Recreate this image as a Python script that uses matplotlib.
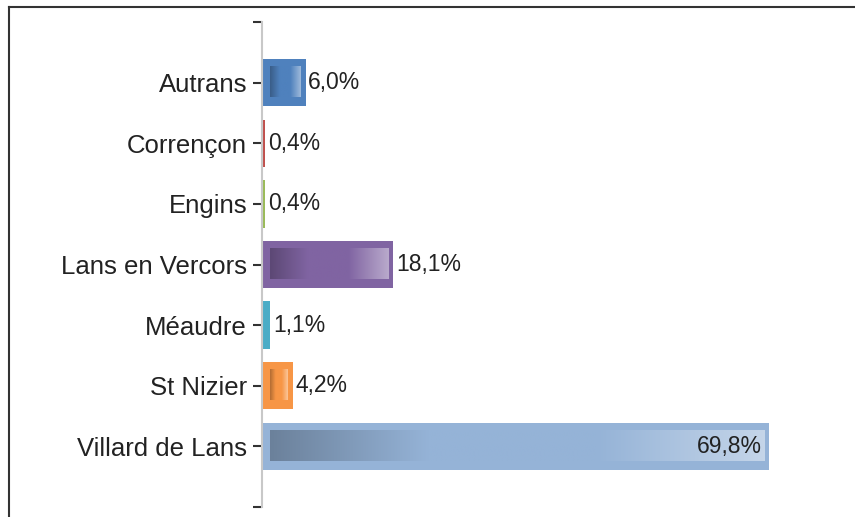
import numpy as np
import matplotlib
matplotlib.use("Agg")
import matplotlib.pyplot as plt
from matplotlib.colors import to_rgb
from matplotlib.lines import Line2D

categories = ['Autrans', 'Corrençon', 'Engins', 'Lans en Vercors', 'Méaudre', 'St Nizier', 'Villard de Lans']
values = [6.0, 0.4, 0.4, 18.1, 1.1, 4.2, 69.8]
value_labels = ['6,0%', '0,4%', '0,4%', '18,1%', '1,1%', '4,2%', '69,8%']
colors = ['#4F81BD', '#C0504D', '#9BBB59', '#8064A2', '#4BACC6', '#F79646', '#95B3D7']

plt.rcParams['font.family'] = ['Liberation Sans', 'DejaVu Sans']

W, H = 855, 517
fig = plt.figure(figsize=(W / 100, H / 100), dpi=100)
fig.patch.set_facecolor('white')

ax_l, ax_r, ax_t, ax_b = 262, 840, 22, 507
ax = fig.add_axes([ax_l / W, 1 - ax_b / H, (ax_r - ax_l) / W, (ax_b - ax_t) / H])

px_per_unit = 7.264
xmax = (ax_r - ax_l) / px_per_unit
n = len(categories)
pos = np.arange(n)
ax.set_xlim(0, xmax)
ax.set_ylim(n, -1)
ypx = (n + 1) / (ax_b - ax_t)
xpx = 1 / px_per_unit

bar_h = 0.78
ax.barh(pos, values, height=bar_h, color=colors, edgecolor='none', zorder=2)


def gradient(col):
    base = np.array(to_rgb(col))
    dark = base * 0.72
    light = base + (1 - base) * 0.45
    t = np.linspace(0, 1, 300)
    out = np.zeros((1, len(t), 3))
    for i, tt in enumerate(t):
        if tt < 0.32:
            f = tt / 0.32
            c = dark + (base - dark) * f
        elif tt < 0.66:
            c = base
        else:
            f = (tt - 0.66) / 0.34
            c = base + (light - base) * f
        out[0, i] = c
    return out


for p, v, c in zip(pos, values, colors):
    if v * px_per_unit > 20:
        x0 = 8 * xpx
        x1 = v - 5 * xpx
        y0 = p - bar_h / 2 + 8 * ypx
        y1 = p + bar_h / 2 - 9 * ypx
        ax.imshow(gradient(c), extent=[x0, x1, y1, y0], aspect='auto',
                  interpolation='bilinear', zorder=3)

ax.set_xlim(0, xmax)
ax.set_ylim(n, -1)

for p, v, lab in zip(pos, values, value_labels):
    if v > 50:
        ax.annotate(lab, (v, p), xytext=(-5, 0), textcoords='offset points',
                    ha='right', va='center', fontsize=16.5, color='#222222', zorder=5)
    else:
        ax.annotate(lab, (v, p), xytext=(2, 0), textcoords='offset points',
                    ha='left', va='center', fontsize=16.5, color='#222222', zorder=5)

ax.set_yticks(np.arange(-1, n + 1))
ax.set_yticklabels([''] + categories + [''])
ax.tick_params(axis='y', length=6.5, width=1.5, color='#333333', pad=4.3,
               labelsize=18.5, labelcolor='#222222')
ax.set_xticks([])
for s in ['top', 'right', 'bottom']:
    ax.spines[s].set_visible(False)
ax.spines['left'].set_color('#c8c8c8')
ax.spines['left'].set_linewidth(1.5)
ax.set_facecolor('none')

fig.add_artist(Line2D([9 / W, 1], [1 - 7 / H, 1 - 7 / H], transform=fig.transFigure,
                      color='#333333', lw=1.5))
fig.add_artist(Line2D([9 / W, 9 / W], [0, 1 - 7 / H], transform=fig.transFigure,
                      color='#333333', lw=1.5))

fig.savefig('out.png', dpi=100)
